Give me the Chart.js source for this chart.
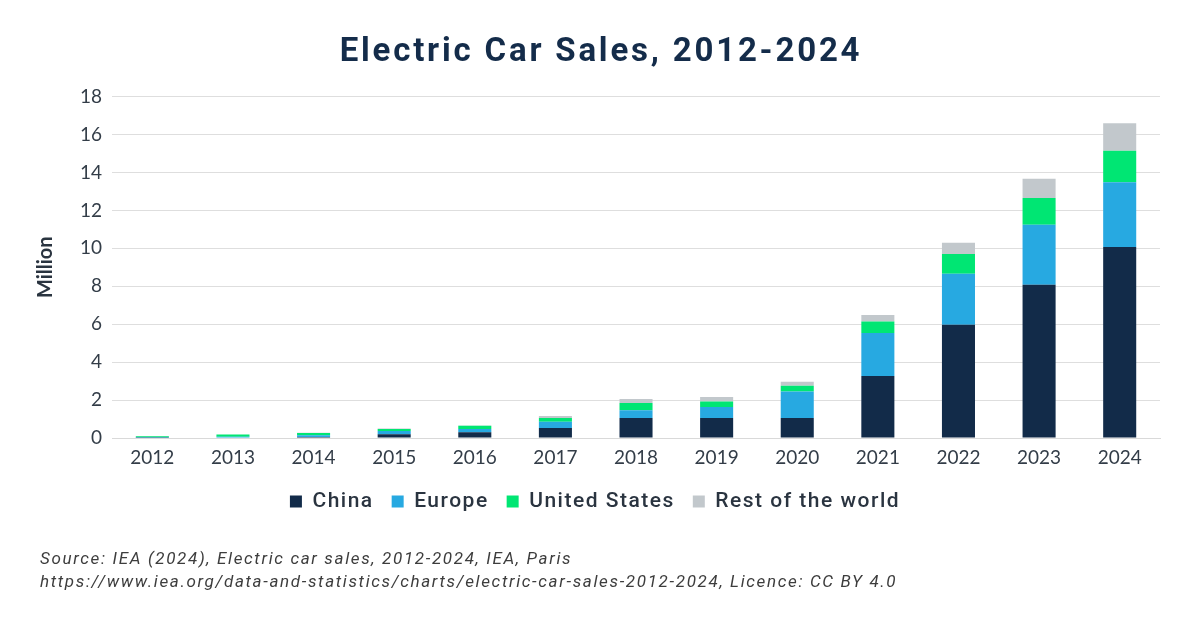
<!DOCTYPE html>
<html>
<head>
<meta charset="utf-8">
<script src="https://cdn.jsdelivr.net/npm/chart.js@4"></script>
<style>
  html, body { margin: 0; padding: 0; background: #ffffff; }
  #wrap { position: relative; width: 1200px; height: 627px; }
  #c { position: absolute; left: 0; top: 0; }
  .src { position: absolute; left: 40px; font-family: Roboto, sans-serif; font-style: italic; font-size: 17px; letter-spacing: 1.65px; color: #3d3d3d; white-space: nowrap; }
</style>
</head>
<body>
<div id="wrap">
  <canvas id="c" width="1200" height="627"></canvas>
  <div class="src" style="top:548px">Source: IEA (2024), Electric car sales, 2012-2024, IEA, Paris</div>
  <div class="src" style="top:571px">https://www.iea.org/data-and-statistics/charts/electric-car-sales-2012-2024, Licence: CC BY 4.0</div>
</div>
<script>
const years = ['2012','2013','2014','2015','2016','2017','2018','2019','2020','2021','2022','2023','2024'];
const china = [0.01,0.02,0.05,0.20,0.30,0.53,1.06,1.06,1.06,3.27,5.97,8.08,10.07];
const europe = [0.03,0.04,0.10,0.17,0.18,0.33,0.40,0.58,1.39,2.27,2.69,3.17,3.41];
const unitedStates = [0.05,0.12,0.11,0.11,0.16,0.20,0.39,0.28,0.31,0.60,1.04,1.41,1.67];
const restOfWorld = [0.01,0.01,0.02,0.02,0.02,0.10,0.21,0.24,0.20,0.35,0.60,1.01,1.45];
const yTicks = [0,2,4,6,8,10,12,14,16,18];

const mk = (label, data, color) => ({
  label, data, backgroundColor: color, borderWidth: 0,
  barPercentage: 0.82, categoryPercentage: 0.5
});

function withSpacing(el, sp, dx) {
  if (!el || el._spaced) return;
  el._spaced = true;
  ['fit', 'draw'].forEach(m => {
    if (typeof el[m] !== 'function') return;
    const orig = el[m].bind(el);
    el[m] = function (...a) {
      const ctx = el.ctx || (el.chart && el.chart.ctx);
      if (!ctx) return orig(...a);
      const prev = ctx.letterSpacing;
      ctx.save();
      ctx.letterSpacing = sp + 'px';
      if (m === 'draw' && dx) ctx.translate(dx, 0);
      try { return orig(...a); } finally { ctx.restore(); ctx.letterSpacing = prev; }
    };
  });
}

const spacingPlugin = {
  id: 'spacing',
  beforeLayout(chart) {
    withSpacing(chart.legend, 1.5, 0);
    withSpacing(chart.titleBlock, 2.8, 6);
  }
};

new Chart(document.getElementById('c'), {
  type: 'bar',
  plugins: [spacingPlugin],
  data: {
    labels: years,
    datasets: [
      mk('China', china, '#122b49'),
      mk('Europe', europe, '#27a9e1'),
      mk('United States', unitedStates, '#00e673'),
      mk('Rest of the world', restOfWorld, '#c2c8cc')
    ]
  },
  options: {
    responsive: false,
    animation: false,
    layout: { padding: { left: 30, right: 40, top: 0, bottom: 105 } },
    plugins: {
      title: {
        display: true,
        text: 'Electric Car Sales, 2012-2024',
        color: '#142c4a',
        font: { family: 'Roboto', weight: 'bold', size: 33 },
        padding: { top: 33, bottom: 24 }
      },
      legend: {
        position: 'bottom',
        labels: {
          color: '#2a3440',
          font: { family: 'Roboto', weight: '500', size: 21 },
          boxWidth: 12, boxHeight: 12,
          padding: 18
        }
      },
      tooltip: { enabled: false }
    },
    scales: {
      x: {
        stacked: true,
        grid: { display: false, drawTicks: false },
        border: { display: true, color: '#d9d9d9', width: 1 },
        ticks: { color: '#333d48', font: { family: 'Lato', size: 19 }, padding: 8 },
        afterFit: (s) => { s.height = 35; }
      },
      y: {
        stacked: true,
        min: 0, max: 18,
        afterBuildTicks: (s) => { s.ticks = yTicks.map(v => ({ value: v })); },
        grid: { color: '#dedede', lineWidth: 1, drawTicks: false },
        border: { display: false },
        ticks: { color: '#333d48', font: { family: 'Lato', size: 19 }, padding: 10 },
        title: {
          display: true, text: 'Million', color: '#2a3440',
          font: { family: 'Lato', weight: 'bold', size: 20 }, padding: { bottom: 12 }
        }
      }
    }
  }
});
</script>
</body>
</html>
